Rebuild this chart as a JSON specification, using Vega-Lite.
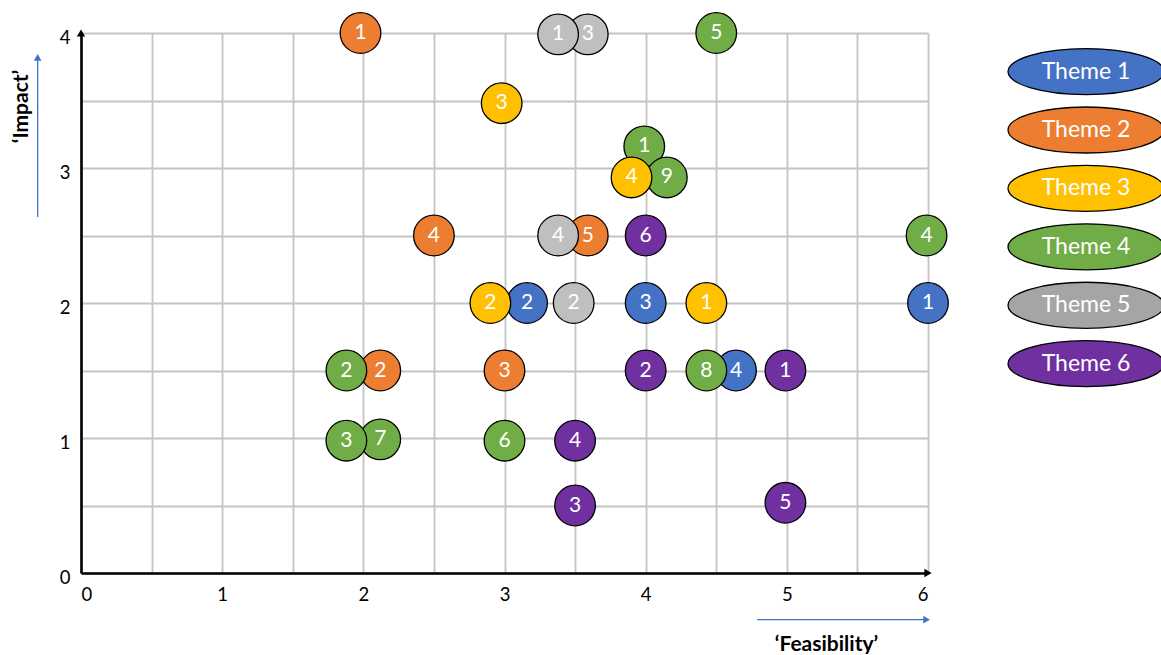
{
  "$schema": "https://vega.github.io/schema/vega-lite/v6.json",
  "padding": {"left": 10, "top": 10, "right": 0, "bottom": 0},
  "background": "white",
  "config": {"font": "Lato", "view": {"stroke": null}},
  "spacing": 54,
  "resolve": {"scale": {"x": "independent", "y": "independent", "fill": "independent"}},
  "hconcat": [
    {
      "width": 847,
      "height": 540,
      "layer": [
        {
          "data": {"values": [
            {"name": "impact arrow", "x": -0.307, "y": 2.637, "x2": -0.307, "y2": 3.8},
            {"name": "feasibility arrow", "x": 4.79, "y": -0.346, "x2": 5.97, "y2": -0.346}
          ]},
          "mark": {"type": "rule", "color": "#4472C4", "strokeWidth": 1.3},
          "encoding": {
            "x": {"field": "x", "type": "quantitative", "scale": {"domain": [0, 6], "nice": false}},
            "x2": {"field": "x2"},
            "y": {"field": "y", "type": "quantitative", "scale": {"domain": [0, 4], "nice": false}},
            "y2": {"field": "y2"}
          }
        },
        {
          "data": {"values": [
            {"name": "impact arrowhead", "x": -0.307, "y": 3.82, "shape": "triangle-up"},
            {"name": "feasibility arrowhead", "x": 5.99, "y": -0.346, "shape": "triangle-right"}
          ]},
          "mark": {"type": "point", "filled": true, "color": "#4472C4", "opacity": 1, "size": 60},
          "encoding": {
            "x": {"field": "x", "type": "quantitative"},
            "y": {"field": "y", "type": "quantitative"},
            "shape": {"field": "shape", "type": "nominal", "scale": null}
          }
        },
        {
          "data": {"values": [
            {"name": "y axis end", "x": 0, "y": 4, "shape": "triangle-up"},
            {"name": "x axis end", "x": 6, "y": 0, "shape": "triangle-right"}
          ]},
          "mark": {"type": "point", "filled": true, "color": "black", "opacity": 1, "size": 70},
          "encoding": {
            "x": {"field": "x", "type": "quantitative"},
            "y": {"field": "y", "type": "quantitative"},
            "shape": {"field": "shape", "type": "nominal", "scale": null}
          }
        },
        {
          "data": {"name": "items"},
          "mark": {"type": "circle", "size": 1650, "opacity": 1, "stroke": "black", "strokeWidth": 1.3},
          "encoding": {
            "x": {
              "field": "feasibility", "type": "quantitative",
              "scale": {"domain": [0, 6], "nice": false},
              "axis": {
                "values": [0, 0.5, 1, 1.5, 2, 2.5, 3, 3.5, 4, 4.5, 5, 5.5, 6],
                "labelExpr": "datum.value % 1 === 0 ? format(datum.value, 'd') : ''",
                "grid": true, "gridColor": "#C4C4C4", "gridWidth": 1.8,
                "domainColor": "black", "domainWidth": 2.6, "ticks": false,
                "labelFontSize": 18.5, "labelColor": "black", "labelPadding": 12,
                "title": "‘Feasibility’", "titleFontSize": 21, "titleFontWeight": "bold", "titleColor": "black",
                "titleX": 745, "titleY": 71, "titleBaseline": "middle", "titleAlign": "center"
              }
            },
            "y": {
              "field": "impact", "type": "quantitative",
              "scale": {"domain": [0, 4], "nice": false},
              "axis": {
                "values": [0, 0.5, 1, 1.5, 2, 2.5, 3, 3.5, 4],
                "labelExpr": "datum.value % 1 === 0 ? format(datum.value, 'd') : ''",
                "grid": true, "gridColor": "#C4C4C4", "gridWidth": 1.8,
                "domainColor": "black", "domainWidth": 2.6, "ticks": false,
                "labelFontSize": 18.5, "labelColor": "black", "labelPadding": 11, "labelOffset": 4,
                "title": "‘Impact’", "titleFontSize": 21, "titleFontWeight": "bold", "titleColor": "black",
                "titleX": -60, "titleY": 73, "titleBaseline": "middle", "titleAlign": "center", "titleAngle": -90
              }
            },
            "fill": {
              "field": "theme", "type": "nominal",
              "scale": {
                "domain": ["Theme 1", "Theme 2", "Theme 3", "Theme 4", "Theme 5", "Theme 6"],
                "range": ["#4472C4", "#ED7D31", "#FFC000", "#70AD47", "#BFBFBF", "#7030A0"]
              },
              "legend": null
            }
          }
        },
        {
          "data": {"name": "items"},
          "mark": {"type": "text", "color": "white", "fontSize": 21, "baseline": "middle", "align": "center"},
          "encoding": {
            "x": {"field": "feasibility", "type": "quantitative"},
            "y": {"field": "impact", "type": "quantitative"},
            "text": {"field": "num", "type": "nominal"}
          }
        }
      ]
    },
    {
      "width": 156,
      "height": 409,
      "data": {"values": [
        {"theme": "Theme 1"}, {"theme": "Theme 2"}, {"theme": "Theme 3"},
        {"theme": "Theme 4"}, {"theme": "Theme 5"}, {"theme": "Theme 6"}
      ]},
      "encoding": {
        "y": {"field": "theme", "type": "nominal", "sort": null,
              "scale": {"type": "point", "padding": 1, "align": 0.33}, "axis": null}
      },
      "layer": [
        {
          "mark": {"type": "point", "shape": "M-1,0A1,0.295,0,1,0,1,0A1,0.295,0,1,0,-1,0Z", "size": 24336,
                   "filled": true, "opacity": 1, "stroke": "black", "strokeWidth": 1.3},
          "encoding": {
            "fill": {
              "field": "theme", "type": "nominal",
              "scale": {
                "domain": ["Theme 1", "Theme 2", "Theme 3", "Theme 4", "Theme 5", "Theme 6"],
                "range": ["#4472C4", "#ED7D31", "#FFC000", "#70AD47", "#A5A5A5", "#7030A0"]
              },
              "legend": null
            }
          }
        },
        {
          "mark": {"type": "text", "color": "white", "fontSize": 23, "baseline": "middle", "align": "center"},
          "encoding": {"text": {"field": "theme", "type": "nominal"}}
        }
      ]
    }
  ],
  "datasets": {
    "items": [
      {"theme": "Theme 1", "num": "1", "feasibility": 6.0, "impact": 2.0},
      {"theme": "Theme 1", "num": "2", "feasibility": 3.16, "impact": 2.0},
      {"theme": "Theme 1", "num": "3", "feasibility": 4.0, "impact": 2.0},
      {"theme": "Theme 1", "num": "4", "feasibility": 4.64, "impact": 1.5},
      {"theme": "Theme 2", "num": "1", "feasibility": 1.98, "impact": 4.0},
      {"theme": "Theme 2", "num": "2", "feasibility": 2.12, "impact": 1.5},
      {"theme": "Theme 2", "num": "3", "feasibility": 3.0, "impact": 1.5},
      {"theme": "Theme 2", "num": "4", "feasibility": 2.5, "impact": 2.5},
      {"theme": "Theme 2", "num": "5", "feasibility": 3.59, "impact": 2.5},
      {"theme": "Theme 4", "num": "1", "feasibility": 3.99, "impact": 3.16},
      {"theme": "Theme 4", "num": "2", "feasibility": 1.88, "impact": 1.5},
      {"theme": "Theme 4", "num": "4", "feasibility": 5.99, "impact": 2.5},
      {"theme": "Theme 4", "num": "5", "feasibility": 4.5, "impact": 4.0},
      {"theme": "Theme 4", "num": "6", "feasibility": 3.0, "impact": 0.98},
      {"theme": "Theme 4", "num": "7", "feasibility": 2.12, "impact": 0.99},
      {"theme": "Theme 4", "num": "3", "feasibility": 1.88, "impact": 0.98},
      {"theme": "Theme 4", "num": "8", "feasibility": 4.43, "impact": 1.5},
      {"theme": "Theme 4", "num": "9", "feasibility": 4.15, "impact": 2.93},
      {"theme": "Theme 3", "num": "1", "feasibility": 4.43, "impact": 2.0},
      {"theme": "Theme 3", "num": "2", "feasibility": 2.9, "impact": 2.0},
      {"theme": "Theme 3", "num": "3", "feasibility": 2.98, "impact": 3.48},
      {"theme": "Theme 3", "num": "4", "feasibility": 3.9, "impact": 2.93},
      {"theme": "Theme 5", "num": "3", "feasibility": 3.59, "impact": 3.99},
      {"theme": "Theme 5", "num": "2", "feasibility": 3.49, "impact": 2.0},
      {"theme": "Theme 5", "num": "4", "feasibility": 3.38, "impact": 2.5},
      {"theme": "Theme 5", "num": "1", "feasibility": 3.38, "impact": 3.99},
      {"theme": "Theme 6", "num": "1", "feasibility": 4.99, "impact": 1.5},
      {"theme": "Theme 6", "num": "2", "feasibility": 4.0, "impact": 1.5},
      {"theme": "Theme 6", "num": "3", "feasibility": 3.5, "impact": 0.5},
      {"theme": "Theme 6", "num": "4", "feasibility": 3.5, "impact": 0.98},
      {"theme": "Theme 6", "num": "5", "feasibility": 4.99, "impact": 0.52},
      {"theme": "Theme 6", "num": "6", "feasibility": 4.0, "impact": 2.5}
    ]
  }
}
